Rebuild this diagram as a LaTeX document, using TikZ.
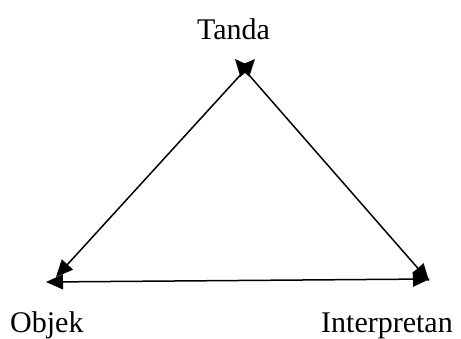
\documentclass[tikz,border=0pt]{standalone}
\usepackage{fontspec}
\setmainfont{Liberation Serif}
\usetikzlibrary{arrows.meta}
\begin{document}
\begin{tikzpicture}[x=1pt,y=-1pt,
  lbl/.style={inner sep=0pt, font=\fontsize{30}{36}\selectfont},
  conn/.style={line width=1.5pt, {Triangle[length=17pt,width=15pt]}-{Triangle[length=17pt,width=15pt]}}]
\useasboundingbox (0,0) rectangle (461,338);
\node[lbl, anchor=base] (tanda) at (233.5,39) {Tanda};
\node[lbl, anchor=base west] (objek) at (10,332) {Objek};
\node[lbl, anchor=base west] (interp) at (321,332) {Interpretan};
\coordinate (tl) at (255,59);
\coordinate (tr) at (235,59);
\coordinate (bl) at (56,277);
\coordinate (br) at (429,281);
\coordinate (ol) at (46,282);
\coordinate (or) at (430,279);
\draw[conn] (tl) -- (bl);
\draw[conn] (tr) -- (br);
\draw[conn] (ol) -- (or);
\end{tikzpicture}
\end{document}
